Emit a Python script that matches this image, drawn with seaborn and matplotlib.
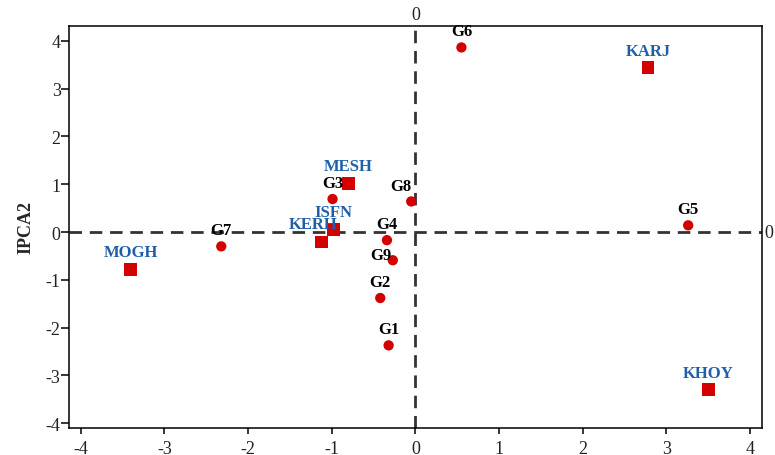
import matplotlib
matplotlib.use("Agg")
import matplotlib.pyplot as plt
import seaborn as sns
import pandas as pd

# Genotypes
gen_names = ["G1", "G2", "G3", "G4", "G5", "G6", "G7", "G8", "G9"]
gen_x = [-0.32, -0.42, -0.99, -0.34, 3.26, 0.55, -2.32, -0.05, -0.27]
gen_y = [-2.37, -1.38, 0.69, -0.17, 0.14, 3.86, -0.30, 0.64, -0.59]

# Environments
env_names = ["KARJ", "MESH", "ISFN", "KERH", "MOGH", "KHOY"]
env_x = [2.78, -0.80, -0.98, -1.12, -3.40, 3.50]
env_y = [3.44, 1.02, 0.06, -0.21, -0.78, -3.30]

x_ticks = [-4, -3, -2, -1, 0, 1, 2, 3, 4]
y_ticks = [-4, -3, -2, -1, 0, 1, 2, 3, 4]

sns.set_style("ticks")
plt.rcParams["font.family"] = ["Liberation Serif", "DejaVu Serif"]
plt.rcParams["axes.unicode_minus"] = False

fig = plt.figure(figsize=(7.75, 4.56), dpi=100)
ax = fig.add_axes([0.089, 0.059, 0.894, 0.882])

red = "#D40000"
blue = "#1F5FAA"
dark = "#333333"

ax.axhline(0, color=dark, lw=2.0, dashes=(4.5, 2.8), zorder=1)
ax.axvline(0, color=dark, lw=2.0, dashes=(4.5, 2.8), zorder=1, clip_on=False)

gdf = pd.DataFrame({"x": gen_x, "y": gen_y, "name": gen_names})
edf = pd.DataFrame({"x": env_x, "y": env_y, "name": env_names})

sns.scatterplot(data=gdf, x="x", y="y", ax=ax, color=red, marker="o", s=55,
                edgecolor="none", zorder=3, legend=False)
sns.scatterplot(data=edf, x="x", y="y", ax=ax, color=red, marker="s", s=85,
                edgecolor="none", zorder=3, legend=False)

gen_off = {"G8": (-10, 15), "G9": (-12, 5)}
for n, x, y in zip(gen_names, gen_x, gen_y):
    dx, dy = gen_off.get(n, (0, 16))
    ax.annotate(n, (x, y), xytext=(dx * 0.72, dy * 0.72), textcoords="offset points",
                ha="center", va="center", fontsize=12, fontweight="bold",
                color="black", zorder=4)
env_off = {"KERH": (-9, 18)}
for n, x, y in zip(env_names, env_x, env_y):
    dx, dy = env_off.get(n, (0, 17))
    ax.annotate(n, (x, y), xytext=(dx * 0.72, dy * 0.72), textcoords="offset points",
                ha="center", va="center", fontsize=12, fontweight="bold",
                color=blue, zorder=4)

ax.set_xlim(-4.14, 4.14)
ax.set_ylim(-4.10, 4.31)
ax.set_xticks(x_ticks)
ax.set_yticks(y_ticks)
ax.set_xticklabels([str(t) for t in x_ticks])
ax.set_yticklabels([str(t) for t in y_ticks])
ax.tick_params(axis="both", labelsize=13, width=1.1, color="black", labelcolor="#222222")
ax.tick_params(axis="y", length=5.5, pad=0.5)
ax.tick_params(axis="x", length=4.5, pad=4)
ax.set_xlabel("")
ax.set_ylabel("IPCA2", fontsize=13, fontweight="bold", labelpad=8)
for s in ax.spines.values():
    s.set_linewidth(1.1)
    s.set_color("black")

ax.text(0, 1.007, "0", transform=ax.get_xaxis_transform(), ha="center", va="bottom",
        fontsize=13, color="#222222")
ax.text(1.004, 0, "0", transform=ax.get_yaxis_transform(), ha="left", va="center",
        fontsize=13, color="#222222")

fig.savefig("out.png", dpi=100)
